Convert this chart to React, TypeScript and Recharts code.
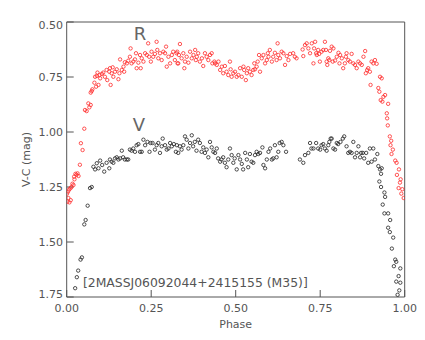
import React from 'react';
import { ScatterChart, Scatter, XAxis, YAxis, ReferenceDot } from 'recharts';

const xMajorTicks = [0, 0.25, 0.5, 0.75, 1];
const xMinorTicks = [0.0625, 0.125, 0.1875, 0.3125, 0.375, 0.4375, 0.5625, 0.625, 0.6875, 0.8125, 0.875, 0.9375];
const yMajorTicks = [0.5, 0.75, 1.0, 1.25, 1.5, 1.75];
const yMinorTicks = [0.5625, 0.625, 0.6875, 0.8125, 0.875, 0.9375, 1.0625, 1.125, 1.1875, 1.3125, 1.375, 1.4375, 1.5625, 1.625, 1.6875];

// R band: [phase, V-C mag]
const redPoints: [number, number][] = [
  [0.001, 1.28], [0.002, 1.317], [0.005, 1.30], [0.008, 1.32], [0.012, 1.31], [0.004, 1.271], [0.007, 1.262],
  [0.011, 1.256], [0.014, 1.25], [0.017, 1.235], [0.02, 1.241], [0.023, 1.215], [0.022, 1.203], [0.026, 1.19],
  [0.029, 1.195], [0.032, 1.188], [0.035, 1.2], [0.039, 1.149], [0.042, 1.051], [0.047, 1.082], [0.052, 0.985],
  [0.054, 0.9], [0.059, 0.905], [0.064, 0.87], [0.067, 0.888], [0.071, 0.877], [0.071, 0.821], [0.074, 0.814],
  [0.076, 0.806], [0.082, 0.776], [0.084, 0.749], [0.087, 0.794], [0.089, 0.745], [0.091, 0.73], [0.094, 0.786],
  [0.097, 0.741], [0.099, 0.756], [0.104, 0.736], [0.108, 0.73], [0.113, 0.749], [0.118, 0.718], [0.12, 0.764],
  [0.126, 0.726], [0.13, 0.786], [0.128, 0.71], [0.133, 0.733], [0.136, 0.706], [0.138, 0.749], [0.143, 0.726],
  [0.148, 0.715], [0.153, 0.76], [0.156, 0.733], [0.158, 0.67], [0.163, 0.718], [0.168, 0.703], [0.17, 0.726],
  [0.172, 0.683], [0.178, 0.688], [0.182, 0.676], [0.187, 0.658], [0.189, 0.62], [0.192, 0.688], [0.197, 0.68],
  [0.202, 0.67], [0.205, 0.642], [0.207, 0.71], [0.212, 0.685], [0.217, 0.65], [0.219, 0.71], [0.222, 0.665],
  [0.227, 0.68], [0.232, 0.642], [0.237, 0.65], [0.241, 0.597], [0.244, 0.658], [0.249, 0.68], [0.251, 0.635],
  [0.256, 0.658], [0.261, 0.645], [0.266, 0.59], [0.268, 0.627], [0.271, 0.665], [0.276, 0.642], [0.281, 0.673],
  [0.286, 0.635], [0.291, 0.642], [0.294, 0.612], [0.296, 0.703], [0.301, 0.658], [0.306, 0.688], [0.311, 0.65],
  [0.315, 0.635], [0.32, 0.673], [0.325, 0.642], [0.33, 0.688], [0.327, 0.635], [0.332, 0.65], [0.335, 0.6],
  [0.328, 0.688], [0.34, 0.665], [0.345, 0.642], [0.348, 0.71], [0.35, 0.68], [0.355, 0.658], [0.36, 0.685],
  [0.365, 0.635], [0.37, 0.665], [0.375, 0.65], [0.38, 0.627], [0.382, 0.673], [0.385, 0.658], [0.389, 0.642],
  [0.394, 0.68], [0.4, 0.665], [0.404, 0.7], [0.409, 0.642], [0.414, 0.658], [0.419, 0.673], [0.424, 0.65],
  [0.429, 0.642], [0.431, 0.688], [0.437, 0.68], [0.439, 0.688], [0.444, 0.695], [0.449, 0.68], [0.454, 0.718],
  [0.459, 0.703], [0.463, 0.733], [0.468, 0.7], [0.473, 0.726], [0.478, 0.741], [0.483, 0.68], [0.485, 0.715],
  [0.488, 0.749], [0.493, 0.733], [0.498, 0.726], [0.503, 0.749], [0.508, 0.741], [0.513, 0.71], [0.518, 0.749],
  [0.523, 0.703], [0.525, 0.718], [0.53, 0.764], [0.533, 0.733], [0.537, 0.71], [0.542, 0.726], [0.547, 0.741],
  [0.552, 0.718], [0.555, 0.688], [0.557, 0.715], [0.562, 0.703], [0.565, 0.68], [0.569, 0.65], [0.572, 0.726],
  [0.577, 0.665], [0.582, 0.65], [0.587, 0.688], [0.592, 0.673], [0.595, 0.642], [0.597, 0.658], [0.601, 0.627],
  [0.607, 0.68], [0.611, 0.658], [0.616, 0.64], [0.621, 0.673], [0.624, 0.597], [0.626, 0.65], [0.631, 0.665],
  [0.636, 0.635], [0.641, 0.642], [0.646, 0.695], [0.651, 0.655], [0.656, 0.673], [0.661, 0.645], [0.67, 0.642],
  [0.675, 0.658], [0.68, 0.665], [0.698, 0.625], [0.7, 0.655], [0.705, 0.605], [0.71, 0.597], [0.715, 0.62],
  [0.72, 0.642], [0.725, 0.597], [0.73, 0.688], [0.732, 0.62], [0.735, 0.59], [0.738, 0.642], [0.74, 0.65],
  [0.744, 0.627], [0.747, 0.645], [0.749, 0.68], [0.754, 0.635], [0.759, 0.627], [0.764, 0.59], [0.767, 0.627],
  [0.769, 0.68], [0.771, 0.695], [0.774, 0.665], [0.777, 0.673], [0.779, 0.631], [0.784, 0.612], [0.787, 0.68],
  [0.789, 0.62], [0.794, 0.675], [0.799, 0.658], [0.804, 0.64], [0.807, 0.688], [0.809, 0.65], [0.814, 0.665],
  [0.818, 0.71], [0.823, 0.688], [0.826, 0.658], [0.828, 0.642], [0.833, 0.673], [0.838, 0.68], [0.843, 0.645],
  [0.848, 0.688], [0.853, 0.695], [0.858, 0.71], [0.863, 0.68], [0.868, 0.688], [0.873, 0.695], [0.878, 0.658],
  [0.883, 0.632], [0.885, 0.733], [0.889, 0.718], [0.892, 0.71], [0.897, 0.726], [0.899, 0.786], [0.902, 0.68],
  [0.907, 0.688], [0.912, 0.673], [0.917, 0.69], [0.922, 0.8], [0.925, 0.817], [0.927, 0.749], [0.932, 0.756],
  [0.929, 0.855], [0.934, 0.862], [0.937, 0.84], [0.942, 0.832], [0.947, 0.915], [0.951, 0.872], [0.948, 0.938],
  [0.95, 0.97], [0.956, 1.02], [0.96, 1.04], [0.958, 1.06], [0.965, 1.08], [0.961, 1.1], [0.972, 1.13],
  [0.976, 1.14], [0.983, 1.17], [0.977, 1.195], [0.986, 1.23], [0.988, 1.215], [0.982, 1.255], [0.993, 1.26],
  [0.99, 1.28], [0.997, 1.3],
];

// V band: [phase, V-C mag]
const blackPoints: [number, number][] = [
  [0.025, 1.71], [0.03, 1.66], [0.034, 1.63], [0.041, 1.58], [0.045, 1.57], [0.052, 1.42], [0.056, 1.4],
  [0.062, 1.335], [0.069, 1.255], [0.074, 1.25], [0.079, 1.158], [0.084, 1.17], [0.089, 1.142], [0.094, 1.165],
  [0.099, 1.13], [0.105, 1.15], [0.111, 1.18], [0.118, 1.14], [0.126, 1.165], [0.128, 1.125], [0.133, 1.135],
  [0.138, 1.14], [0.143, 1.12], [0.148, 1.115], [0.153, 1.125], [0.158, 1.12], [0.163, 1.085], [0.167, 1.115],
  [0.172, 1.125], [0.178, 1.125], [0.182, 1.125], [0.187, 1.08], [0.192, 1.085], [0.197, 1.075], [0.202, 1.09],
  [0.207, 1.06], [0.212, 1.055], [0.217, 1.09], [0.222, 1.09], [0.227, 1.035], [0.232, 1.06], [0.239, 1.045],
  [0.245, 1.09], [0.248, 1.05], [0.254, 1.05], [0.261, 1.08], [0.266, 1.06], [0.271, 1.05], [0.276, 1.095],
  [0.281, 1.065], [0.284, 1.03], [0.291, 1.06], [0.296, 1.08], [0.301, 1.075], [0.306, 1.05], [0.311, 1.065],
  [0.317, 1.055], [0.323, 1.09], [0.33, 1.095], [0.326, 1.06], [0.335, 1.065], [0.34, 1.08], [0.345, 1.06],
  [0.35, 1.02], [0.355, 1.035], [0.36, 1.075], [0.365, 1.05], [0.37, 1.015], [0.374, 1.065], [0.379, 1.045],
  [0.384, 1.085], [0.389, 1.035], [0.394, 1.05], [0.399, 1.09], [0.404, 1.07], [0.409, 1.095], [0.414, 1.08],
  [0.419, 1.115], [0.424, 1.045], [0.429, 1.07], [0.434, 1.09], [0.439, 1.095], [0.444, 1.075], [0.448, 1.12],
  [0.454, 1.135], [0.458, 1.125], [0.463, 1.115], [0.468, 1.14], [0.473, 1.16], [0.478, 1.125], [0.483, 1.075],
  [0.488, 1.105], [0.493, 1.14], [0.497, 1.12], [0.503, 1.17], [0.508, 1.105], [0.513, 1.125], [0.518, 1.145],
  [0.522, 1.17], [0.528, 1.095], [0.533, 1.125], [0.537, 1.16], [0.542, 1.1], [0.547, 1.135], [0.552, 1.14],
  [0.557, 1.105], [0.562, 1.09], [0.567, 1.1], [0.572, 1.095], [0.579, 1.07], [0.582, 1.15], [0.587, 1.165],
  [0.592, 1.125], [0.597, 1.09], [0.602, 1.075], [0.607, 1.125], [0.611, 1.12], [0.616, 1.06], [0.621, 1.115],
  [0.626, 1.09], [0.63, 1.05], [0.636, 1.045], [0.641, 1.06], [0.649, 1.09], [0.69, 1.125], [0.7, 1.14],
  [0.705, 1.105], [0.715, 1.095], [0.72, 1.05], [0.724, 1.075], [0.73, 1.075], [0.738, 1.05], [0.744, 1.075],
  [0.75, 1.08], [0.754, 1.06], [0.759, 1.055], [0.764, 1.075], [0.769, 1.085], [0.774, 1.06], [0.777, 1.045],
  [0.781, 1.03], [0.784, 1.03], [0.789, 1.075], [0.794, 1.08], [0.799, 1.05], [0.803, 1.055], [0.81, 1.045],
  [0.817, 1.03], [0.821, 1.02], [0.828, 1.065], [0.833, 1.095], [0.838, 1.09], [0.843, 1.095], [0.848, 1.045],
  [0.853, 1.115], [0.858, 1.095], [0.863, 1.065], [0.868, 1.115], [0.871, 1.095], [0.876, 1.095], [0.88, 1.12],
  [0.886, 1.095], [0.892, 1.14], [0.897, 1.075], [0.902, 1.135], [0.907, 1.075], [0.912, 1.125], [0.919, 1.1],
  [0.922, 1.155], [0.927, 1.17], [0.932, 1.165], [0.93, 1.19], [0.925, 1.225], [0.93, 1.25], [0.94, 1.275],
  [0.942, 1.295], [0.935, 1.33], [0.94, 1.37], [0.951, 1.37], [0.957, 1.4], [0.951, 1.435], [0.956, 1.455],
  [0.966, 1.48], [0.962, 1.53], [0.972, 1.58], [0.975, 1.59], [0.968, 1.61], [0.987, 1.62], [0.982, 1.655],
  [0.975, 1.68], [0.987, 1.685], [0.984, 1.72], [0.979, 1.74],
];

const redData = redPoints.map(([phase, mag]) => ({ phase, mag }));
const blackData = blackPoints.map(([phase, mag]) => ({ phase, mag }));

const AXIS = '#555';
const TEXT = '#555';
const FONT = 'DejaVu Sans';

const RedDot = (p: any) => (
  <circle cx={p.cx} cy={p.cy} r={1.7} fill="none" stroke="#ff2a2a" strokeWidth={0.8} />
);
const BlackDot = (p: any) => (
  <circle cx={p.cx} cy={p.cy} r={1.7} fill="none" stroke="#222" strokeWidth={0.8} />
);

const fmt = (v: number) => v.toFixed(2);

// End labels of the y axis sit slightly inside the frame, as in the reference
const YTick = (props: any) => {
  const { x, y, payload } = props;
  const v = payload.value;
  const shift = v === 0.5 ? 3 : v === 1.75 ? -3 : 0;
  return (
    <text x={x} y={y + shift} dy="0.355em" textAnchor="end" fill={TEXT} fontSize={11} fontFamily={FONT}>
      {fmt(v)}
    </text>
  );
};

export default function App() {
  return (
    <div style={{ width: 417, height: 324 }}>
      <ScatterChart width={417} height={324} margin={{ top: 12, right: 18.3, bottom: 33, left: 56.7 }}>
        <XAxis xAxisId="x" type="number" dataKey="phase" domain={[0, 1]} allowDataOverflow ticks={xMajorTicks}
          interval={0} height={1} tickSize={-7} tickMargin={14} tickFormatter={fmt}
          axisLine={{ stroke: AXIS }} tickLine={{ stroke: AXIS }}
          tick={{ fill: TEXT, fontSize: 11, fontFamily: FONT }}
          label={{ value: 'Phase', position: 'bottom', offset: 22, fill: TEXT, fontSize: 11, fontFamily: FONT }} />
        <XAxis xAxisId="xm" type="number" dataKey="phase" domain={[0, 1]} allowDataOverflow ticks={xMinorTicks}
          interval={0} height={1} tick={false} tickSize={-5} axisLine={false} tickLine={{ stroke: AXIS }} />
        <XAxis xAxisId="xt" orientation="top" type="number" domain={[0, 1]} allowDataOverflow ticks={xMajorTicks}
          interval={0} height={1} tick={false} tickSize={-7} axisLine={{ stroke: AXIS }} tickLine={{ stroke: AXIS }} />
        <XAxis xAxisId="xtm" orientation="top" type="number" domain={[0, 1]} allowDataOverflow ticks={xMinorTicks}
          interval={0} height={1} tick={false} tickSize={-5} axisLine={false} tickLine={{ stroke: AXIS }} />
        <YAxis yAxisId="y" type="number" dataKey="mag" domain={[0.5, 1.75]} reversed allowDataOverflow ticks={yMajorTicks}
          interval={0} width={1} tickSize={-7} tickMargin={10.7}
          axisLine={{ stroke: AXIS }} tickLine={{ stroke: AXIS }}
          tick={YTick}
          label={{ value: 'V-C (mag)', angle: -90, position: 'left', offset: 39.7, fill: TEXT, fontSize: 11,
            fontFamily: FONT, style: { textAnchor: 'middle' } }} />
        <YAxis yAxisId="ym" type="number" domain={[0.5, 1.75]} reversed allowDataOverflow ticks={yMinorTicks}
          interval={0} width={1} tick={false} tickSize={-5} axisLine={false} tickLine={{ stroke: AXIS }} />
        <YAxis yAxisId="yr" orientation="right" type="number" domain={[0.5, 1.75]} reversed allowDataOverflow
          ticks={yMajorTicks} interval={0} width={1} tick={false} tickSize={-7} axisLine={{ stroke: AXIS }}
          tickLine={{ stroke: AXIS }} />
        <YAxis yAxisId="yrm" orientation="right" type="number" domain={[0.5, 1.75]} reversed allowDataOverflow
          ticks={yMinorTicks} interval={0} width={1} tick={false} tickSize={-5} axisLine={false}
          tickLine={{ stroke: AXIS }} />
        <Scatter xAxisId="x" yAxisId="y" data={redData} shape={RedDot} isAnimationActive={false} />
        <Scatter xAxisId="x" yAxisId="y" data={blackData} shape={BlackDot} isAnimationActive={false} />
        <ReferenceDot xAxisId="x" yAxisId="y" x={0.217} y={0.552} r={0} stroke="none" fill="none"
          label={{ value: 'R', position: 'center', fill: '#666', fontSize: 18, fontFamily: FONT }} />
        <ReferenceDot xAxisId="x" yAxisId="y" x={0.214} y={0.966} r={0} stroke="none" fill="none"
          label={{ value: 'V', position: 'center', fill: '#666', fontSize: 18, fontFamily: FONT }} />
        <ReferenceDot xAxisId="x" yAxisId="y" x={0.048} y={1.686} r={0} stroke="none" fill="none"
          label={{ value: '[2MASSJ06092044+2415155 (M35)]', position: 'right', offset: 0, fill: TEXT,
            fontSize: 12.4, fontFamily: FONT }} />
      </ScatterChart>
    </div>
  );
}
